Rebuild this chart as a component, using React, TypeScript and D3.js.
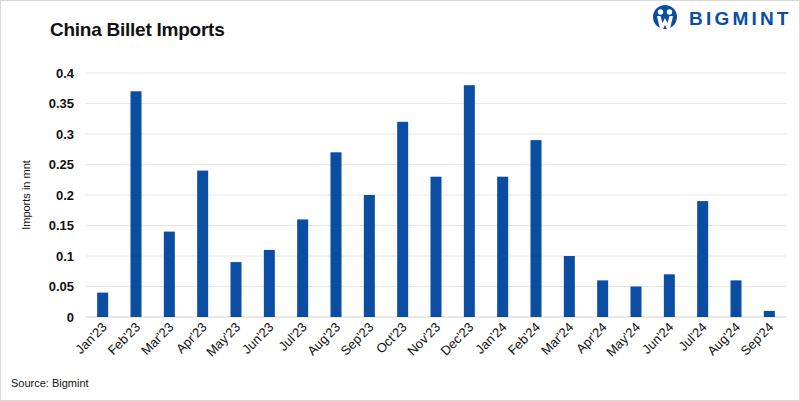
import React from "react";
import * as d3 from "d3";

const categories = ["Jan'23","Feb'23","Mar'23","Apr'23","May'23","Jun'23","Jul'23","Aug'23","Sep'23","Oct'23","Nov'23","Dec'23","Jan'24","Feb'24","Mar'24","Apr'24","May'24","Jun'24","Jul'24","Aug'24","Sep'24"];
const imports = [0.04,0.37,0.14,0.24,0.09,0.11,0.16,0.27,0.20,0.32,0.23,0.38,0.23,0.29,0.10,0.06,0.05,0.07,0.19,0.06,0.01];
const yTicks = [0,0.05,0.1,0.15,0.2,0.25,0.3,0.35,0.4];
const yTickLabels = ["0","0.05","0.1","0.15","0.2","0.25","0.3","0.35","0.4"];

const W = 800, H = 401;
const left = 86, right = 786, top = 73, bottom = 317;
const BLUE = "#0a4da3";
const FONT = "'Liberation Sans', Arial, sans-serif";

export default function App() {
  const x = d3.scaleBand<string>().domain(categories).range([left, right]).paddingInner(0.67).paddingOuter(0.335);
  const y = d3.scaleLinear().domain([0, 0.4]).range([bottom, top]);
  const cx0 = 665, cy0 = 17;
  return (
    <svg width={W} height={H} style={{ position: "absolute", left: 0, top: 0 }} fontFamily={FONT}>
      <rect x={0.5} y={0.5} width={W - 1} height={H - 1} fill="#fff" stroke="#d9d9d9" />
      <text x={50} y={36} fontSize={19} fontWeight="bold" letterSpacing={-0.25} fill="#111">China Billet Imports</text>
      {/* logo */}
      <g transform={`translate(${cx0},${cy0})`}>
        <circle cx={0} cy={0} r={12} fill={BLUE} />
        <circle cx={-4.5} cy={-5} r={2.7} fill="#fff" />
        <circle cx={4.5} cy={-5} r={2.7} fill="#fff" />
        <path d="M-8,-1 L-4.5,-1 L-2.5,6 L0,1 L2.5,6 L4.5,-1 L8,-1 L5,12 L2,12 L0,8 L-2,12 L-5,12 Z" fill="#fff" />
      </g>
      <text x={689} y={25} fontSize={19} fontWeight="bold" letterSpacing={3.2} fill={BLUE}>BIGMINT</text>
      {yTicks.map((t, i) => (
        <g key={i}>
          <line x1={left} x2={right} y1={y(t)} y2={y(t)} stroke={i === 0 ? "#d0d0d0" : "#e6e6e6"} strokeWidth={1} />
          <text x={74} y={y(t) + 4.5} textAnchor="end" fontSize={13} fontWeight="bold" fill="#111">{yTickLabels[i]}</text>
        </g>
      ))}
      <text transform={`translate(30,${(top + bottom) / 2}) rotate(-90)`} textAnchor="middle" fontSize={11} fill="#111">Imports in mnt</text>
      {categories.map((c, i) => (
        <rect key={c} x={x(c)} y={y(imports[i])} width={x.bandwidth()} height={bottom - y(imports[i])} fill={BLUE} />
      ))}
      {categories.map((c) => {
        const cx = (x(c) as number) + x.bandwidth() / 2;
        return (
          <text key={c} transform={`translate(${cx + 5},${bottom + 11}) rotate(-45)`} textAnchor="end" fontSize={13} fill="#111">{c}</text>
        );
      })}
      <text x={11} y={387} fontSize={11} fill="#111">Source: Bigmint</text>
    </svg>
  );
}
